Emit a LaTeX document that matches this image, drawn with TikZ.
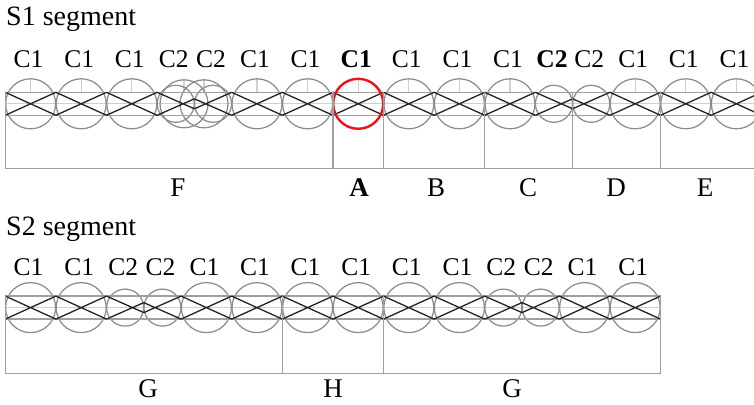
\documentclass[tikz,border=0pt]{standalone}
\usepackage{fontspec}
\setmainfont{Liberation Serif}
\definecolor{circgray}{HTML}{8C8C8C}
\definecolor{railgray}{HTML}{A0A0A0}
\definecolor{lightgray2}{HTML}{D0D0D0}
\definecolor{xdark}{HTML}{222222}
\definecolor{redc}{HTML}{E8141B}
\begin{document}
\begin{tikzpicture}[x=1pt,y=-1pt,
  circ/.style={draw=circgray,line width=1.25pt},
  rail/.style={draw=railgray,line width=1.25pt},
  light/.style={draw=lightgray2,line width=1.2pt},
  xline/.style={draw=xdark,line width=1.3pt},
  seg/.style={draw=railgray,line width=1.25pt},
  clab/.style={font=\fontsize{25.5}{28}\selectfont,anchor=base,inner sep=0pt},
  slab/.style={font=\fontsize{28}{32}\selectfont,anchor=base west,inner sep=0pt},
  glab/.style={font=\fontsize{27}{30}\selectfont,anchor=base,inner sep=0pt}]
\useasboundingbox (0,0) rectangle (754,404);
\clip (0,0) rectangle (754,404);
% ---------- titles
\node[slab] (t1) at (6,25.5) {S1 segment};
\node[slab] (t2) at (6,235.5) {S2 segment};
% ================= S1 =================
\def\ca{103.8}
\draw[light] (5.3,\ca) -- (760,\ca);
\foreach \c in {30.6,81.2,131.8,257,307.6,358.2,408.8,459.4,510,635.2,685.8,736.4}
  \draw[light] (\c,\ca-25) -- (\c,\ca-11.5);
\foreach \c in {184,204}
  \draw[light] (\c,\ca-25) -- (\c,\ca-11.5);
\foreach \c in {30.6,81.2,131.8,257,307.6,408.8,459.4,510,635.2,685.8,736.4}
  \draw[circ] (\c,\ca) circle (25);
\foreach \c in {553.95,591.25,175.75,213.05}
  \draw[circ] (\c,\ca) circle (18.5);
\foreach \c in {184,204}
  \draw[circ] (\c,\ca) circle (24);
\draw[rail] (5.3,\ca-11.5) -- (760,\ca-11.5);
\draw[rail] (5.3,\ca+11.5) -- (760,\ca+11.5);
\foreach \xa/\ha/\xb/\hb in {5.3/11.5/55.9/11.5, 55.9/11.5/106.5/11.5, 106.5/11.5/157.1/11.5,
   157.1/11.5/194.4/5, 194.4/5/231.7/11.5, 231.7/11.5/282.3/11.5, 282.3/11.5/332.9/11.5,
   332.9/11.5/383.5/11.5, 383.5/11.5/434.1/11.5, 434.1/11.5/484.7/11.5, 484.7/11.5/535.3/11.5,
   535.3/11.5/572.6/5, 572.6/5/609.9/11.5, 609.9/11.5/660.5/11.5, 660.5/11.5/711.1/11.5,
   711.1/11.5/761.7/11.5}
  \draw[xline] (\xa,\ca-\ha) -- (\xb,\ca+\hb) (\xa,\ca+\ha) -- (\xb,\ca-\hb);
\draw[draw=redc,line width=2.4pt] (358.2,\ca) circle (25);
\foreach \v in {5.3,332.9,383.5,484.7,572.6,660.5}
  \draw[seg] (\v,\ca-11.5) -- (\v,168.5);
\draw[seg] (5.3,168.5) -- (760,168.5);
\foreach \c/\t [count=\i] in {30.6/C1,81.2/C1,131.8/C1,175.75/C2,213.05/C2,257/C1,307.6/C1,
   408.8/C1,459.4/C1,510/C1,591.25/C2,635.2/C1,685.8/C1,736.4/C1}
  \node[clab] (a\i) at (\c-2,67) {\t};
\node[clab,font=\fontsize{25.5}{28}\selectfont\bfseries] (abold1) at (356.2,67) {C1};
\node[clab,font=\fontsize{25.5}{28}\selectfont\bfseries] (abold2) at (551.95,67) {C2};
\node[glab] (lF) at (178,196) {F};
\node[glab,font=\fontsize{27}{30}\selectfont\bfseries] (lA) at (359,196) {A};
\node[glab] (lB) at (436,196) {B};
\node[glab] (lC) at (528,196) {C};
\node[glab] (lD) at (616,196) {D};
\node[glab] (lE) at (705,196) {E};
% ================= S2 =================
\def\cb{307.6}
\draw[light] (5.3,\cb) -- (660.5,\cb);
\foreach \c in {30.6,81.2,206.4,257,307.6,358.2,408.8,459.4,584.6,635.2}
  \draw[circ] (\c,\cb) circle (25);
\foreach \c in {125.15,162.45,503.35,540.65}
  \draw[circ] (\c,\cb) circle (18.5);
\draw[rail] (5.3,\cb-11.5) -- (660.5,\cb-11.5);
\draw[rail] (5.3,\cb+11.5) -- (660.5,\cb+11.5);
\foreach \xa/\ha/\xb/\hb in {5.3/11.5/55.9/11.5, 55.9/11.5/106.5/11.5, 106.5/11.5/143.8/5,
   143.8/5/181.1/11.5, 181.1/11.5/231.7/11.5, 231.7/11.5/282.3/11.5, 282.3/11.5/332.9/11.5,
   332.9/11.5/383.5/11.5, 383.5/11.5/434.1/11.5, 434.1/11.5/484.7/11.5, 484.7/11.5/522/5,
   522/5/559.3/11.5, 559.3/11.5/609.9/11.5, 609.9/11.5/660.5/11.5}
  \draw[xline] (\xa,\cb-\ha) -- (\xb,\cb+\hb) (\xa,\cb+\ha) -- (\xb,\cb-\hb);
\foreach \v in {5.3,282.3,383.5,660.5}
  \draw[seg] (\v,\cb-11.5) -- (\v,373.3);
\draw[seg] (5.3,373.3) -- (660.5,373.3);
\foreach \c/\t [count=\i] in {30.6/C1,81.2/C1,125.15/C2,162.45/C2,206.4/C1,257/C1,307.6/C1,
   358.2/C1,408.8/C1,459.4/C1,503.35/C2,540.65/C2,584.6/C1,635.2/C1}
  \node[clab] (b\i) at (\c-2,275) {\t};
\node[glab] (lG1) at (148,397) {G};
\node[glab] (lH) at (333,397) {H};
\node[glab] (lG2) at (512,397) {G};
\end{tikzpicture}
\end{document}
